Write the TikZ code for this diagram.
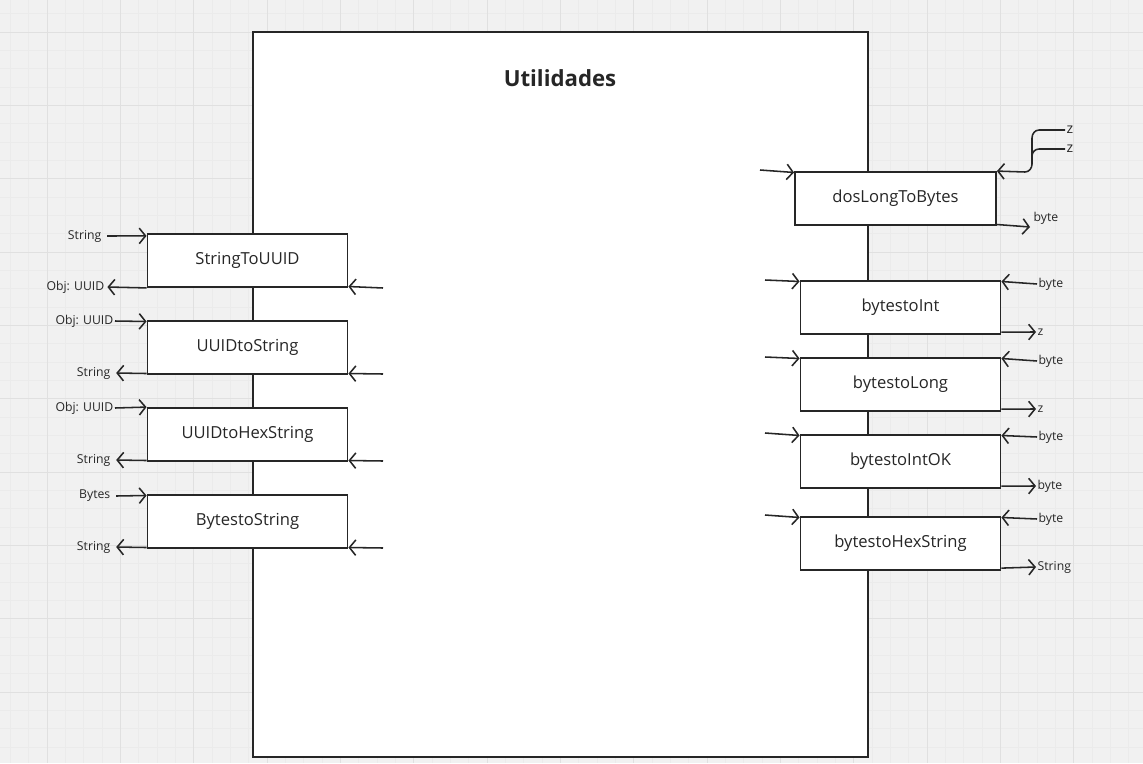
\documentclass[tikz,border=0pt]{standalone}
\usepackage{fontspec}
\setmainfont{Open Sans}
\usetikzlibrary{arrows.meta,calc}

\definecolor{bgcol}{HTML}{F1F1F1}
\definecolor{minorcol}{HTML}{EBEBEB}
\definecolor{majorcol}{HTML}{E0E0E0}
\definecolor{inkcol}{HTML}{262626}

\tikzset{
  fnbox/.style={draw=inkcol, line width=1.3pt, fill=white, minimum width=5cm, minimum height=1.325cm, inner sep=0pt, font=\fontsize{11.8}{14}\selectfont, text=inkcol},
  lbl/.style={font=\fontsize{8.7}{10}\selectfont, text=inkcol, inner sep=1pt},
  flow/.style={draw=inkcol, line width=1.1pt, -{Straight Barb[length=4.5pt,width=11pt,line width=1.1pt]}}
}

\begin{document}
\begin{tikzpicture}[x=0.025cm, y=-0.025cm]
    %% background with grid
    \useasboundingbox (0,0) rectangle (1143,763);
    \clip (0,0) rectangle (1143,763);
    \fill[bgcol] (0,0) rectangle (1143,763);
    \foreach \i in {0,...,63} {\draw[minorcol, line width=0.4pt] ({-26.33+18.333*\i},0) -- ({-26.33+18.333*\i},763);}
    \foreach \i in {0,...,43} {\draw[minorcol, line width=0.4pt] (0,{-4.67+18.333*\i}) -- (1143,{-4.67+18.333*\i});}
    \foreach \i in {0,...,16} {\draw[majorcol, line width=0.6pt] ({-26.33+73.333*\i},0) -- ({-26.33+73.333*\i},763);}
    \foreach \i in {0,...,11} {\draw[majorcol, line width=0.6pt] (0,{-41.33+73.333*\i}) -- (1143,{-41.33+73.333*\i});}

    %% main box
    \draw[inkcol, line width=1.3pt, fill=white] (253,32) rectangle (868,757);
    \node[text=inkcol, font=\fontsize{15.8}{18}\selectfont\bfseries] (title) at (560,78) {Utilidades};

    %% left functions
    \node[fnbox] (sUUID) at (247.5,260.5) {StringToUUID};
    \node[fnbox] (uStr) at (247.5,347.5) {UUIDtoString};
    \node[fnbox] (uHex) at (247.5,434.5) {UUIDtoHexString};
    \node[fnbox] (bStr) at (247.5,521.5) {BytestoString};

    \node[lbl, anchor=east] (sUUIDin) at (103,236) {String};
    \node[lbl, anchor=east] (sUUIDout) at (106,287) {Obj: UUID};
    \node[lbl, anchor=east] (uStrin) at (115,321) {Obj: UUID};
    \node[lbl, anchor=east] (uStrout) at (112,373) {String};
    \node[lbl, anchor=east] (uHexin) at (115,408) {Obj: UUID};
    \node[lbl, anchor=east] (uHexout) at (112,460) {String};
    \node[lbl, anchor=east] (bStrin) at (112,496) {Bytes};
    \node[lbl, anchor=east] (bStrout) at (112,547) {String};

    \draw[flow] ([xshift=3pt]sUUIDin.east) -- ([yshift=-2pt]sUUID.north west);
    \draw[flow] (sUUID.south west) -- ([xshift=1pt]sUUIDout.east);
    \draw[flow] (uStrin.east) -- ([yshift=-1pt]uStr.north west);
    \draw[flow] ([yshift=1pt]uStr.south west) -- ([xshift=3pt]uStrout.east);
    \draw[flow] (uHexin.east) -- (uHex.north west);
    \draw[flow] ([yshift=1pt]uHex.south west) -- ([xshift=3pt]uHexout.east);
    \draw[flow] ([xshift=3pt]bStrin.east) -- ([yshift=-1pt]bStr.north west);
    \draw[flow] ([yshift=1pt]bStr.south west) -- ([xshift=3pt]bStrout.east);

    \coordinate (sUUIDr) at (383,288);
    \coordinate (uStrr) at (383,374);
    \coordinate (uHexr) at (383,461);
    \coordinate (bStrr) at (383,548);
    \draw[flow] (sUUIDr) -- ([yshift=1pt]sUUID.south east);
    \draw[flow] (uStrr) -- ([yshift=1pt]uStr.south east);
    \draw[flow] (uHexr) -- ([yshift=1pt]uHex.south east);
    \draw[flow] (bStrr) -- ([yshift=1pt]bStr.south east);

    %% right functions
    \node[fnbox, minimum width=5.025cm] (dosLong) at (895.5,198.5) {dosLongToBytes};
    \node[fnbox] (bInt) at (900.5,307.5) {bytestoInt};
    \node[fnbox] (bLong) at (900.5,384.5) {bytestoLong};
    \node[fnbox] (bIntOK) at (900.5,461.5) {bytestoIntOK};
    \node[fnbox] (bHex) at (900.5,543.5) {bytestoHexString};

    \coordinate (dosLongl) at (760,170);
    \coordinate (bIntl) at (765,280);
    \coordinate (bLongl) at (765,357);
    \coordinate (bIntOKl) at (765,433);
    \coordinate (bHexl) at (765,515);
    \draw[flow] (dosLongl) -- ([yshift=-1pt]dosLong.north west);
    \draw[flow] (bIntl) -- ([yshift=-1pt]bInt.north west);
    \draw[flow] (bLongl) -- ([yshift=-1pt]bLong.north west);
    \draw[flow] (bIntOKl) -- ([yshift=-1pt]bIntOK.north west);
    \draw[flow] (bHexl) -- ([yshift=-1pt]bHex.north west);

    %% z inputs of dosLongToBytes
    \node[lbl, anchor=west, font=\fontsize{10}{12}\selectfont] (z1) at (1065,130) {z};
    \node[lbl, anchor=west, font=\fontsize{10}{12}\selectfont] (z2) at (1065,149) {z};
    \draw[inkcol, line width=1.1pt] (z1.west) -- (1039,130) to[out=180,in=90] (1032,138) -- (1032,164);
    \draw[inkcol, line width=1.1pt] (z2.west) -- (1039,149) to[out=180,in=90] (1032,156);
    \draw[flow] (1032,164) to[out=-90,in=0] (1025,172) -- (dosLong.north east);
    \node[lbl, anchor=west] (dosLongout) at (1032,218) {byte};
    \draw[flow] ([yshift=1pt]dosLong.south east) -- (1030,227);

    %% byte inputs and outputs
    \node[lbl, anchor=west] (bIntin) at (1037,284) {byte};
    \node[lbl, anchor=west] (bIntout) at (1036,332) {z};
    \node[lbl, anchor=west] (bLongin) at (1037,361) {byte};
    \node[lbl, anchor=west] (bLongout) at (1036,409) {z};
    \node[lbl, anchor=west] (bIntOKin) at (1037,437) {byte};
    \node[lbl, anchor=west] (bIntOKout) at (1036,486) {byte};
    \node[lbl, anchor=west] (bHexin) at (1037,519) {byte};
    \node[lbl, anchor=west] (bHexout) at (1036,567) {String};

    \draw[flow] (bIntin.west) -- ([yshift=-1pt]bInt.north east);
    \draw[flow] ([yshift=2pt]bInt.south east) -- (bIntout.west);
    \draw[flow] (bLongin.west) -- ([yshift=-1pt]bLong.north east);
    \draw[flow] ([yshift=2pt]bLong.south east) -- (bLongout.west);
    \draw[flow] (bIntOKin.west) -- ([yshift=-1pt]bIntOK.north east);
    \draw[flow] ([yshift=2pt]bIntOK.south east) -- (bIntOKout.west);
    \draw[flow] (bHexin.west) -- ([yshift=-1pt]bHex.north east);
    \draw[flow] ([yshift=2pt]bHex.south east) -- (bHexout.west);
\end{tikzpicture}
\end{document}
